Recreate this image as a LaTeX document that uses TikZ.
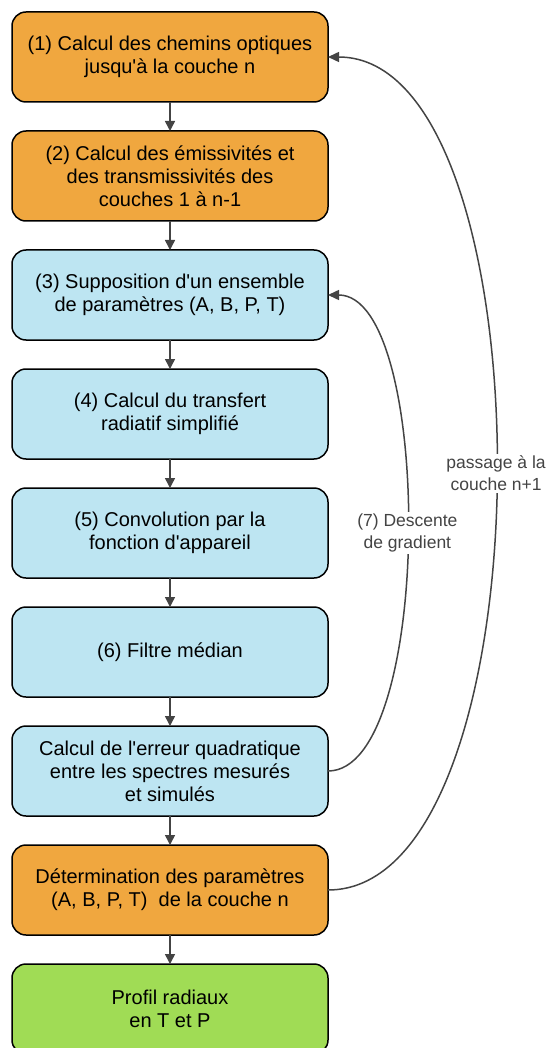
\documentclass[tikz,border=0pt]{standalone}
\usepackage{fontspec}
\setmainfont{Liberation Sans}
\usepackage{tikz}
\usetikzlibrary{arrows.meta, positioning}

\definecolor{stepOrange}{HTML}{F0A73F}
\definecolor{stepBlue}{HTML}{BDE5F2}
\definecolor{stepGreen}{HTML}{A0DC55}
\definecolor{lineGray}{HTML}{444444}

\begin{document}
\begin{tikzpicture}[x=1pt, y=-1pt, node distance=29pt,
  stepbox/.style={draw=black, line width=1.5pt, rounded corners=14pt,
    minimum width=316pt, minimum height=90pt, inner sep=0pt, outer sep=0pt,
    align=center, font=\fontsize{20}{23}\selectfont},
  flow/.style={-{Triangle[length=10pt, width=10pt]}, line width=1.5pt, lineGray},
  loopback/.style={-{Triangle[length=11pt, width=10pt]}, line width=1.5pt, lineGray},
  looplabel/.style={fill=white, inner sep=2pt, align=center, text=lineGray,
    font=\fontsize{17.5}{22}\selectfont}]

\useasboundingbox (0,0) rectangle (552,1048);

% Steps, top to bottom
\node[stepbox, fill=stepOrange] (chemins) at (170,57) {(1) Calcul des chemins optiques\\jusqu\textquotesingle{}à la couche n};
\node[stepbox, fill=stepOrange, below=of chemins] (emiss) {(2) Calcul des émissivités et\\des transmissivités des\\couches 1 à n-1};
\node[stepbox, fill=stepBlue, below=of emiss] (suppo) {(3) Supposition d\textquotesingle{}un ensemble\\de paramètres (A, B, P, T)};
\node[stepbox, fill=stepBlue, below=of suppo] (transfert) {(4) Calcul du transfert\\radiatif simplifié};
\node[stepbox, fill=stepBlue, below=of transfert] (convol) {(5) Convolution par la\\fonction d\textquotesingle{}appareil};
\node[stepbox, fill=stepBlue, below=of convol] (filtre) {(6) Filtre médian};
\node[stepbox, fill=stepBlue, below=of filtre] (erreur) {Calcul de l\textquotesingle{}erreur quadratique\\entre les spectres mesurés\\et simulés};
\node[stepbox, fill=stepOrange, below=of erreur] (determ) {Détermination des paramètres\\(A, B, P, T)\ \ de la couche n};
\node[stepbox, fill=stepGreen, below=of determ] (profil) {Profil radiaux\\en T et P};

% Straight arrows
\draw[flow] (chemins) -- (emiss);
\draw[flow] (emiss) -- (suppo);
\draw[flow] (suppo) -- (transfert);
\draw[flow] (transfert) -- (convol);
\draw[flow] (convol) -- (filtre);
\draw[flow] (filtre) -- (erreur);
\draw[flow] (erreur) -- (determ);
\draw[flow] (determ) -- (profil);

% Loops back
\draw[loopback] (erreur.east) to[out=0, in=0, looseness=0.57]
  node[looplabel] {(7) Descente\\de gradient} (suppo.east);
\draw[loopback] (determ.east) to[out=0, in=0, looseness=0.69]
  node[looplabel] {passage à la\\couche n+1} (chemins.east);

\end{tikzpicture}
\end{document}
